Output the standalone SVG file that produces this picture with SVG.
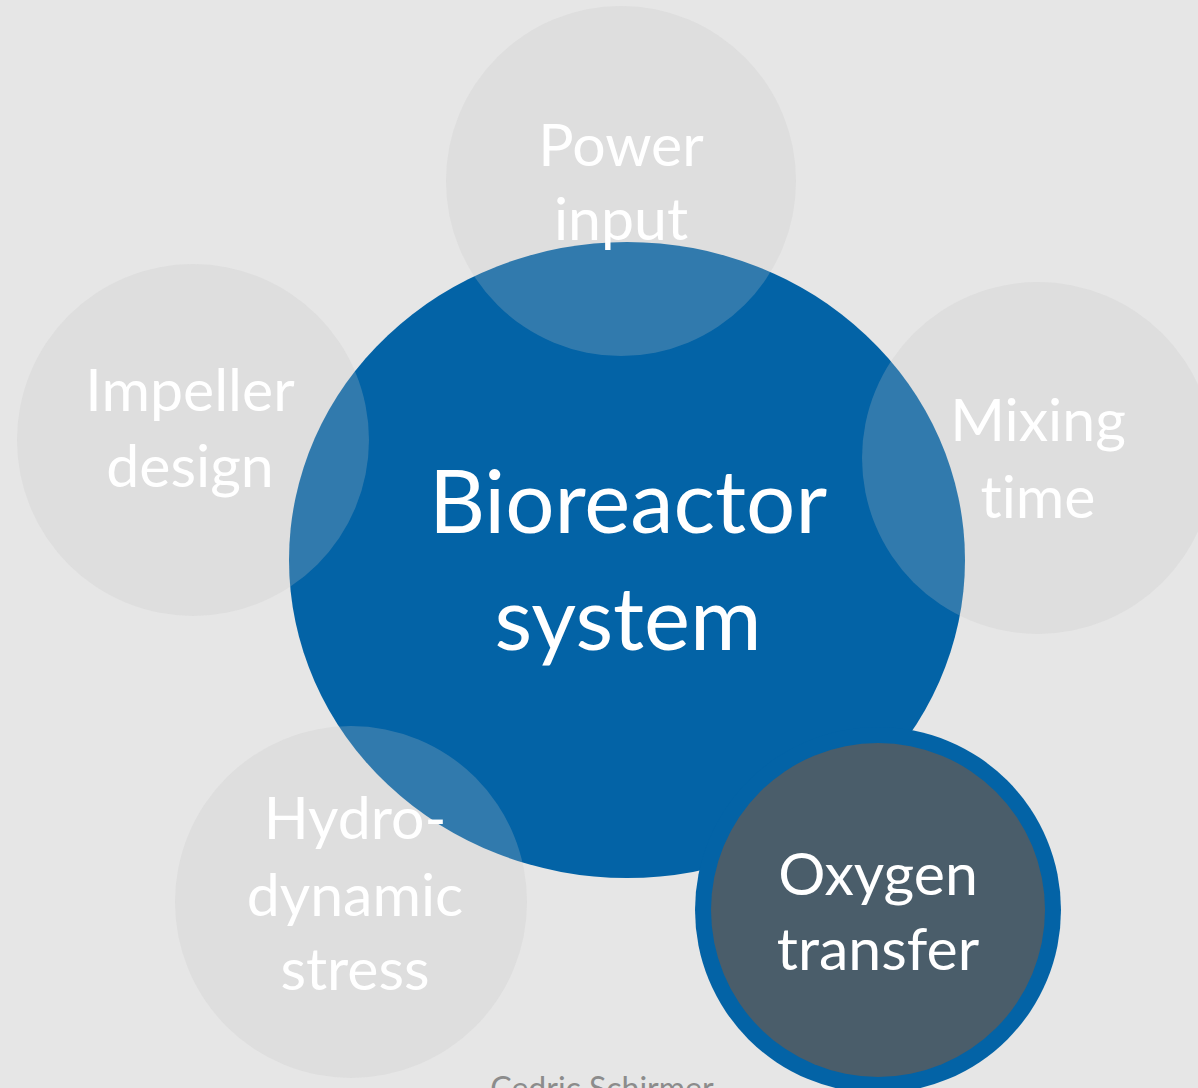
<svg xmlns="http://www.w3.org/2000/svg" width="1198" height="1088" viewBox="0 0 1198 1088">
<style>
.bg{fill:#e6e6e6}
.sat{fill:#c4c4c4;fill-opacity:0.24}
.lbl{font-family:Lato,"Open Sans","Liberation Sans",sans-serif;fill:#ffffff;text-anchor:middle;font-variant-ligatures:none}
.s{font-size:59px}
.b{font-size:87px}
.credit{font-family:Lato,"Liberation Sans",sans-serif;fill:#8c8c8c;font-size:32px;text-anchor:middle}
</style>
<rect class="bg" x="0" y="0" width="1198" height="1088"/>
<g id="connectors"/>
<g id="bioreactor">
<ellipse cx="627" cy="560" rx="338" ry="318" fill="#0363a6"/>
<text class="lbl b" x="628" y="533">Bioreactor</text>
<text class="lbl b" x="628" y="650">system</text>
</g>
<g id="oxygen">
<circle cx="878" cy="910" r="183" fill="#0363a6"/>
<circle cx="878" cy="910" r="167" fill="#4a5d6a"/>
<text class="lbl s" x="878" y="895">Oxygen</text>
<text class="lbl s" x="878" y="970">transfer</text>
</g>
<g id="power">
<circle class="sat" cx="621" cy="181" r="175"/>
<text class="lbl s" x="621" y="166">Power</text>
<text class="lbl s" x="621" y="240">input</text>
</g>
<g id="impeller">
<circle class="sat" cx="193" cy="440" r="176"/>
<text class="lbl s" x="190" y="411">Impeller</text>
<text class="lbl s" x="190" y="487">design</text>
</g>
<g id="mixing">
<circle class="sat" cx="1038" cy="458" r="176"/>
<text class="lbl s" x="1038" y="441">Mixing</text>
<text class="lbl s" x="1038" y="518">time</text>
</g>
<g id="hydro">
<circle class="sat" cx="351" cy="902" r="176"/>
<text class="lbl s" x="355" y="839">Hydro-</text>
<text class="lbl s" x="355" y="916">dynamic</text>
<text class="lbl s" x="355" y="990">stress</text>
</g>
<text class="credit" x="602" y="1100">Cedric Schirmer</text>
</svg>
